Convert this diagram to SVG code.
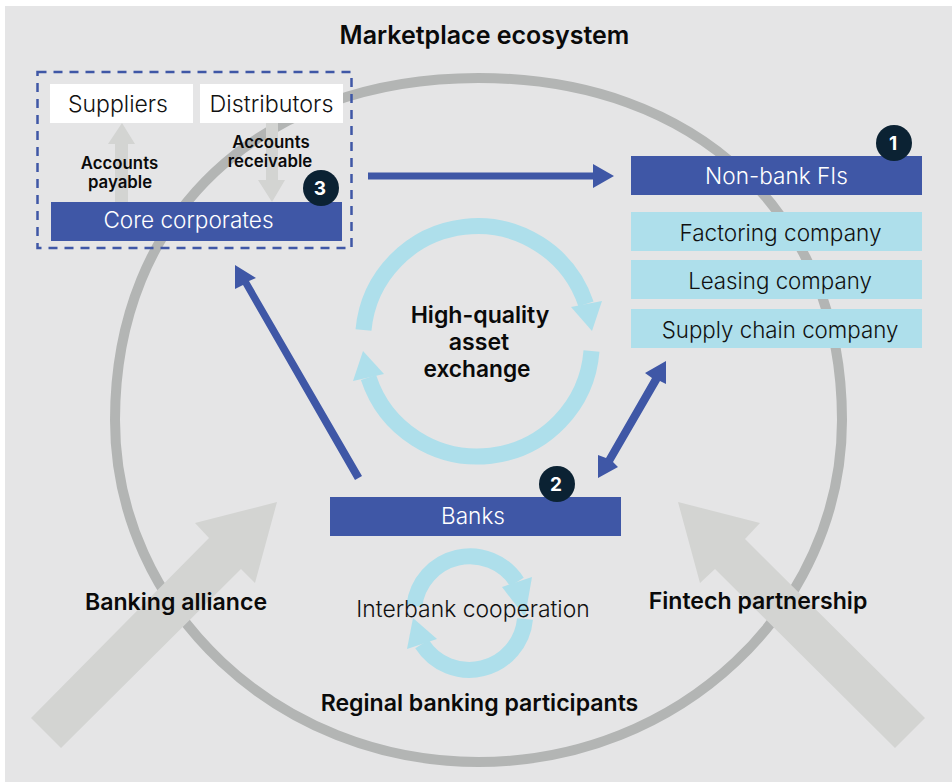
<svg xmlns="http://www.w3.org/2000/svg" width="952" height="782" viewBox="0 0 952 782">
<style>
text{font-family:"Inter","Liberation Sans",sans-serif;text-anchor:middle}
.l{font-size:22.300px;font-weight:300;fill:#111}
.w{font-size:22.600px;font-weight:300;fill:#fff}
.b{font-size:23.100px;font-weight:600;fill:#0a0a0a}
.s{font-size:16.800px;font-weight:600;fill:#0a0a0a}
.n{font-size:19px;font-weight:700;fill:#fff}
.blue{fill:#3f57a6}.cy{fill:#aedfeb}.gr{fill:#d3d4d2}.dk{fill:#0b2233}
.arc{fill:none;stroke:#aedfeb;stroke-width:16}
</style>
<rect width="952" height="782" fill="#fff"/>
<rect x="5" y="6" width="947" height="776" fill="#e5e5e6"/>
<g id="ring"><path fill="none" stroke="#b3b5b4" stroke-width="10" d="M115 420C115 215 260 78 478.500 78C697 78 842 215 842 420C842 609 679 762 478.500 762C278 762 115 609 115 420Z"/></g>
<g id="title"><text class="b" x="484.500" y="44" style="font-size:25px">Marketplace ecosystem</text></g>
<g id="connectors">
<polygon class="gr" points="31,718 209,538 195,523 277,502 255,583 241,569 61,748"/>
<polygon class="gr" points="925,718 745,539 760,523 678,502 700,583 715,569 895,748"/>
<path class="blue" d="M368 172.500H593V164L614 176L593 188V179.500H368Z"/>
<polygon class="blue" points="235,265 256,278 249,281 362,476 355,480 243,285 235,289"/>
<polygon class="blue" points="666,361 645,373 652,378 606,458 598,455 598,478 618,467 613,462 660,381 666,384"/>
<path class="arc" d="M363.500 330A114.500 114.500 0 0 1 586 304"/>
<polygon class="cy" points="571,307 602,301 592,331"/>
<path class="arc" d="M591.500 351A114.500 114.500 0 0 1 368.500 377.500"/>
<polygon class="cy" points="353,381 363,351 384,374"/>
<path class="arc" d="M414.300 606A56 56 0 0 1 517 582"/>
<polygon class="cy" points="502,587 532,577 525,617"/>
<path class="arc" d="M525 619A56 56 0 0 1 422 644"/>
<polygon class="cy" points="407,649 413,618 437,639"/>
<polygon class="gr" points="115,202 115,144 108,144 122,123 135,144 128,144 128,202"/>
<polygon class="gr" points="266,123 266,180 258,180 272,202 285,180 278,180 278,123"/>
</g>
<g id="boundary"><rect x="37.500" y="72" width="314" height="176" fill="none" stroke="#3f57a6" stroke-width="2.500" stroke-dasharray="9 7"/></g>
<g id="suppliers"><rect x="50" y="84" width="143" height="39" fill="#fff"/><text class="l" x="118" y="112" style="font-size:23px">Suppliers</text></g>
<g id="distributors"><rect x="200" y="84" width="143" height="39" fill="#fff"/><text class="l" x="271.500" y="112" style="font-size:23.300px">Distributors</text></g>
<g id="payable"><text class="s" x="119.500" y="169">Accounts</text><text class="s" x="120" y="188">payable</text></g>
<g id="receivable"><text class="s" x="271" y="148">Accounts</text><text class="s" x="270" y="167">receivable</text></g>
<g id="core"><rect class="blue" x="51" y="202" width="291" height="39"/><text class="w" x="188.500" y="228">Core corporates</text></g>
<g id="badge3"><circle class="dk" cx="321" cy="188" r="18"/><text class="n" x="320" y="195">3</text></g>
<g id="nonbank"><rect class="blue" x="631" y="156" width="291" height="39"/><text class="w" x="776.500" y="184">Non-bank FIs</text></g>
<g id="badge1"><circle class="dk" cx="894" cy="143" r="18"/><text class="n" x="893" y="150">1</text></g>
<g id="factoring"><rect class="cy" x="631" y="212" width="291" height="39"/><text class="l" x="780.500" y="241" style="font-size:22.600px">Factoring company</text></g>
<g id="leasing"><rect class="cy" x="631" y="260" width="291" height="39"/><text class="l" x="780" y="289">Leasing company</text></g>
<g id="supply"><rect class="cy" x="631" y="309" width="291" height="39"/><text class="l" x="780" y="338">Supply chain company</text></g>
<g id="exchange"><text class="b" x="480" y="323">High-quality</text><text class="b" x="479" y="350">asset</text><text class="b" x="477" y="377" style="font-size:22.700px">exchange</text></g>
<g id="banks"><rect class="blue" x="330" y="497" width="291" height="39"/><text class="w" x="473" y="524">Banks</text></g>
<g id="badge2"><circle class="dk" cx="557" cy="484" r="18"/><text class="n" x="556" y="491">2</text></g>
<g id="interbank"><text class="l" x="473" y="617" style="font-size:22.900px">Interbank cooperation</text></g>
<g id="regional"><text class="b" x="479.500" y="711">Reginal banking participants</text></g>
<g id="alliance"><text class="b" x="176" y="610">Banking alliance</text></g>
<g id="fintech"><text class="b" x="758" y="609">Fintech partnership</text></g>
</svg>
